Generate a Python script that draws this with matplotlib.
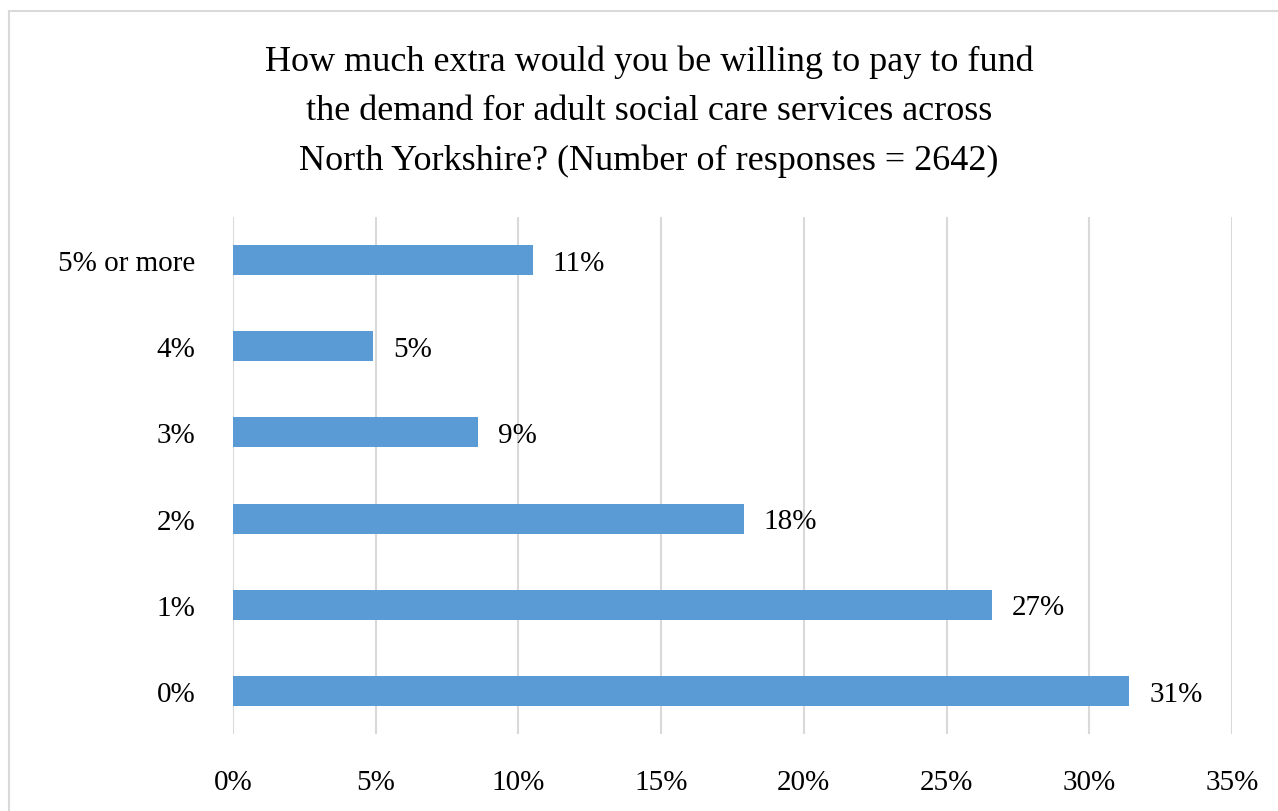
import matplotlib
matplotlib.use("Agg")
import matplotlib.pyplot as plt
from matplotlib.patches import Rectangle

categories = ["0%", "1%", "2%", "3%", "4%", "5% or more"]
values = [31.4, 26.6, 17.9, 8.6, 4.9, 10.5]
labels = ["31%", "27%", "18%", "9%", "5%", "11%"]
xticks = [0, 5, 10, 15, 20, 25, 30, 35]
title = ("How much extra would you be willing to pay to fund\n"
         "the demand for adult social care services across\n"
         "North Yorkshire? (Number of responses = 2642)")

plt.rcParams['font.family'] = ['Liberation Serif', 'DejaVu Serif']

W, H = 1278, 812
fig = plt.figure(figsize=(W/100, H/100), dpi=100)
ax = fig.add_axes([233/W, 1-735/H, (1232-233)/W, (735-218)/H])

ax.barh(range(len(categories)), values, height=0.35, color="#5B9BD5", zorder=3)
for i, (v, lab) in enumerate(zip(values, labels)):
    ax.text(v + 0.7, i - 0.03, lab, va="center", ha="left", fontsize=21, color="#000000")

ax.set_xlim(0, 35)
ax.set_ylim(-0.5, len(categories) - 0.5)
ax.set_xticks(xticks)
ax.set_xticklabels([f"{t}%" for t in xticks], fontsize=21)
ax.set_yticks(range(len(categories)))
ax.set_yticklabels(categories, fontsize=21)
ax.tick_params(length=0, pad=27, axis='y')
ax.tick_params(length=0, pad=25, axis='x')
ax.grid(axis='x', color="#d9d9d9", linewidth=1.5, zorder=0)
for s in ax.spines.values():
    s.set_visible(False)

fig.text(649/W, 1-112/H, title, ha="center", va="center", fontsize=26,
         linespacing=1.64, color="#000000")

fig.patches.append(Rectangle((8.5/W, -0.05), 1.1, 1.05 - 11.5/H,
                             transform=fig.transFigure, fill=False,
                             edgecolor="#d9d9d9", linewidth=1.5))

fig.savefig("out.png", dpi=100)
